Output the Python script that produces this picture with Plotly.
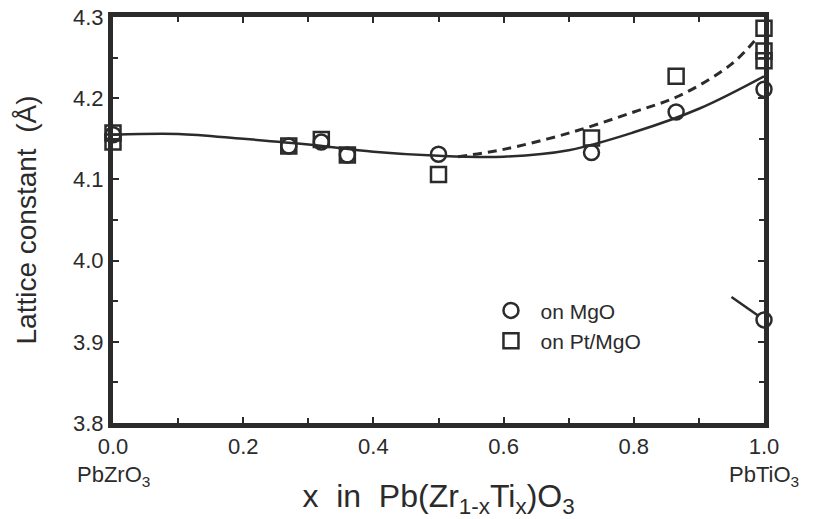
import plotly.graph_objects as go

# Data
mgo_x = [0.0, 0.27, 0.32, 0.36, 0.50, 0.735, 0.865, 1.0, 1.0]
mgo_y = [4.155, 4.141, 4.146, 4.130, 4.131, 4.133, 4.183, 4.211, 3.927]

pt_x = [0.0, 0.0, 0.27, 0.32, 0.36, 0.50, 0.735, 0.865, 1.0, 1.0, 1.0]
pt_y = [4.157, 4.146, 4.141, 4.149, 4.130, 4.106, 4.151, 4.227, 4.286, 4.258, 4.246]

fit_x = [0.0, 0.1, 0.2, 0.3, 0.4, 0.5, 0.6, 0.7, 0.8, 0.9, 1.0]
fit_y = [4.155, 4.156, 4.150, 4.143, 4.134, 4.129, 4.128, 4.136, 4.158, 4.187, 4.227]

dash_x = [0.53, 0.6, 0.7, 0.8, 0.87, 0.95, 0.99]
dash_y = [4.128, 4.137, 4.157, 4.183, 4.203, 4.242, 4.275]

x_ticks = [0.0, 0.2, 0.4, 0.6, 0.8, 1.0]
x_ticklabels = ["0.0", "0.2", "0.4", "0.6", "0.8", "1.0"]
y_ticks = [3.8, 3.9, 4.0, 4.1, 4.2, 4.3]
y_ticklabels = ["3.8", "3.9", "4.0", "4.1", "4.2", "4.3"]

ink = "#2b2b2b"
font = "Liberation Sans, Arial, sans-serif"

fig = go.Figure()
fig.add_trace(go.Scatter(x=fit_x, y=fit_y, mode="lines", line=dict(color=ink, width=2.5, shape="spline"),
                         showlegend=False, hoverinfo="skip"))
fig.add_trace(go.Scatter(x=dash_x, y=dash_y, mode="lines",
                         line=dict(color=ink, width=3, shape="spline", dash="9px,6px"),
                         showlegend=False, hoverinfo="skip"))
fig.add_trace(go.Scatter(x=mgo_x, y=mgo_y, mode="markers", name="on MgO", cliponaxis=False,
                         marker=dict(symbol="circle-open", size=15, color=ink, line=dict(width=2.5))))
fig.add_trace(go.Scatter(x=pt_x, y=pt_y, mode="markers", name="on Pt/MgO", cliponaxis=False,
                         marker=dict(symbol="square-open", size=15, color=ink, line=dict(width=2.5))))

fig.add_annotation(x=mgo_x[-1], y=mgo_y[-1], ax=-34, ay=-24, showarrow=True, arrowhead=0,
                   arrowwidth=2.5, arrowcolor=ink, standoff=7, text="")

fig.add_annotation(x=0.0, y=-0.13, yref="paper", yanchor="middle", text="PbZrO<sub>3</sub>",
                   showarrow=False, font=dict(size=22, color=ink, family=font))
fig.add_annotation(x=1.0, y=-0.13, yref="paper", yanchor="middle", text="PbTiO<sub>3</sub>",
                   showarrow=False, font=dict(size=22, color=ink, family=font))

fig.update_layout(
    width=819, height=519,
    margin=dict(l=113, r=55, t=17, b=96, autoexpand=False),
    paper_bgcolor="white", plot_bgcolor="white",
    font=dict(family=font, color=ink, size=22),
    legend=dict(x=0.566, y=0.327, xanchor="left", yanchor="top", bgcolor="rgba(0,0,0,0)",
                font=dict(size=21, color=ink, family=font), itemwidth=49, tracegroupgap=0),
    xaxis=dict(range=[0, 1], tickvals=x_ticks, ticktext=x_ticklabels, showgrid=False, zeroline=False,
               automargin=False,
               showline=True, linewidth=5, linecolor=ink, mirror="allticks", ticks="inside",
               ticklen=6, tickwidth=2, tickcolor=ink, tickfont=dict(size=22, color=ink, family=font),
               minor=dict(dtick=0.1, ticks="inside", ticklen=5, tickwidth=2, tickcolor=ink),
               title=dict(text="x  in  Pb(Zr<sub>1-x</sub>Ti<sub>x</sub>)O<sub>3</sub>",
                          font=dict(size=32, color=ink, family=font), standoff=36)),
    yaxis=dict(range=[3.8, 4.3], tickvals=y_ticks, ticktext=y_ticklabels, showgrid=False, zeroline=False,
               automargin=False,
               showline=True, linewidth=5, linecolor=ink, mirror="allticks", ticks="inside",
               ticklen=6, tickwidth=2, tickcolor=ink, tickfont=dict(size=22, color=ink, family=font),
               minor=dict(dtick=0.05, ticks="inside", ticklen=5, tickwidth=2, tickcolor=ink),
               title=dict(text="Lattice constant  (Å)", font=dict(size=28, color=ink, family=font),
                          standoff=30)),
)

fig.write_html("out.html")
